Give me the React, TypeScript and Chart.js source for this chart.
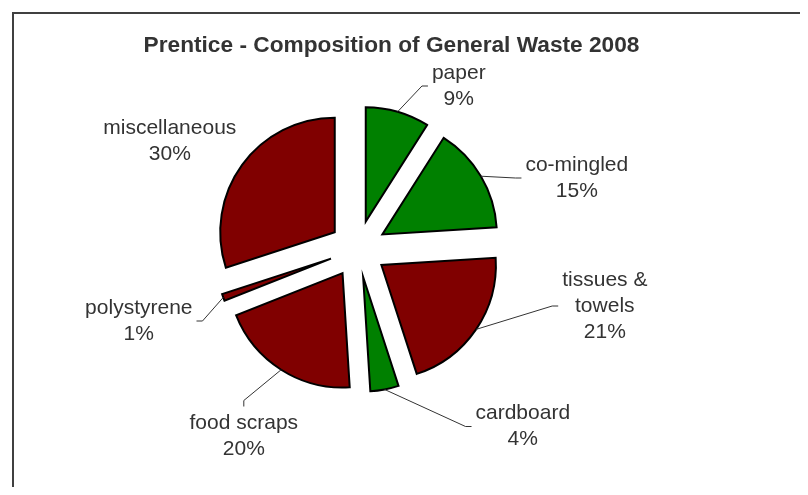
import React, { useEffect, useRef } from "react";
import { Chart, registerables } from "chart.js";

Chart.register(...registerables);

// ---- data ----
const categories = [
  "paper",
  "co-mingled",
  "tissues & towels",
  "cardboard",
  "food scraps",
  "polystyrene",
  "miscellaneous",
];
const values = [9, 15, 21, 4, 20, 1, 30];
const sliceColors = ["#008000", "#008000", "#800000", "#008000", "#800000", "#800000", "#800000"];
const titleText = "Prentice - Composition of General Waste 2008";

// ---- label layout (offsets of each label block from the pie centre, px) ----
const labelLayout = [
  { dx: 101, dy: -163, leader: "left", maxWidth: 1000 },
  { dx: 219, dy: -71, leader: "left", maxWidth: 1000 },
  { dx: 247, dy: 57, leader: "left", maxWidth: 100 },
  { dx: 165, dy: 177.5, leader: "left", maxWidth: 1000 },
  { dx: -114, dy: 187.5, leader: "top", maxWidth: 1000 },
  { dx: -219, dy: 72, leader: "right", maxWidth: 1000 },
  { dx: -188, dy: -108, leader: "", maxWidth: 1000 },
];

const FONT = "'Liberation Sans', Arial, sans-serif";
const EXPLODE = 28.5;

function wrapText(ctx: CanvasRenderingContext2D, text: string, maxW: number): string[] {
  const words = text.split(" ");
  const lines: string[] = [];
  let cur = "";
  for (const w of words) {
    const test = cur ? cur + " " + w : w;
    if (cur && ctx.measureText(test).width > maxW) {
      lines.push(cur);
      cur = w;
    } else {
      cur = test;
    }
  }
  if (cur) lines.push(cur);
  return lines;
}

const frameAndTitle = {
  id: "frameAndTitle",
  beforeDraw(chart: any) {
    const ctx = chart.ctx as CanvasRenderingContext2D;
    ctx.save();
    ctx.strokeStyle = "#404040";
    ctx.lineWidth = 2;
    ctx.beginPath();
    ctx.moveTo(5, chart.height + 5);
    ctx.lineTo(5, 5);
    ctx.lineTo(chart.width + 5, 5);
    ctx.stroke();
    ctx.fillStyle = "#333333";
    ctx.font = `bold 22.7px ${FONT}`;
    ctx.textAlign = "center";
    ctx.textBaseline = "alphabetic";
    ctx.fillText(titleText, 383.5, 44);
    ctx.restore();
  },
};

const explodedPie = {
  id: "explodedPie",
  beforeDatasetDraw(chart: any, args: any) {
    const ctx = chart.ctx as CanvasRenderingContext2D;
    args.meta.data.forEach((arc: any) => {
      const mid = (arc.startAngle + arc.endAngle) / 2;
      ctx.save();
      ctx.translate(Math.cos(mid) * EXPLODE, Math.sin(mid) * EXPLODE);
      arc.draw(ctx);
      ctx.restore();
    });
    return false;
  },
};

const pieLabels = {
  id: "pieLabels",
  afterDatasetsDraw(chart: any) {
    const ctx = chart.ctx as CanvasRenderingContext2D;
    const meta = chart.getDatasetMeta(0);
    const data = chart.data.datasets[0].data as number[];
    const total = data.reduce((a, b) => a + b, 0);
    const lh = 26;
    const gap = 4;
    const stub = 6;
    ctx.save();
    ctx.font = `21px ${FONT}`;
    meta.data.forEach((arc: any, i: number) => {
      const L = labelLayout[i];
      const { x, y, startAngle, endAngle, outerRadius } = arc;
      const mid = (startAngle + endAngle) / 2;
      const lines = wrapText(ctx, String(chart.data.labels[i]), L.maxWidth);
      lines.push(Math.round((data[i] / total) * 100) + "%");
      const cx = x + L.dx;
      const cy = y + L.dy;
      const blockW = Math.max(...lines.map((t) => ctx.measureText(t).width));
      const blockH = lines.length * lh;
      ctx.fillStyle = "#333333";
      ctx.textAlign = "center";
      ctx.textBaseline = "middle";
      lines.forEach((t, k) => ctx.fillText(t, cx, cy - blockH / 2 + lh * (k + 0.5)));
      if (L.leader) {
        const sx = x + Math.cos(mid) * (EXPLODE + outerRadius);
        const sy = y + Math.sin(mid) * (EXPLODE + outerRadius);
        let ex = cx, ey = cy, bx = cx, by = cy;
        if (L.leader === "left") {
          ex = cx - blockW / 2 - gap; ey = cy; bx = ex - stub; by = ey;
        } else if (L.leader === "right") {
          ex = cx + blockW / 2 + gap; ey = cy; bx = ex + stub; by = ey;
        } else if (L.leader === "top") {
          ex = cx; ey = cy - blockH / 2 - gap; bx = ex; by = ey - stub;
        }
        ctx.strokeStyle = "#333333";
        ctx.lineWidth = 1;
        ctx.beginPath();
        ctx.moveTo(sx, sy);
        ctx.lineTo(bx, by);
        ctx.lineTo(ex, ey);
        ctx.stroke();
      }
    });
    ctx.restore();
  },
};

export default function App() {
  const ref = useRef<HTMLCanvasElement | null>(null);
  useEffect(() => {
    if (!ref.current) return;
    const chart = new Chart(ref.current, {
      type: "pie",
      data: {
        labels: categories,
        datasets: [
          {
            data: values,
            backgroundColor: sliceColors,
            borderColor: "#000000",
            borderWidth: 2,
            hoverBorderWidth: 2,
            borderJoinStyle: "miter",
            offset: 0,
            hoverOffset: 0,
          },
        ],
      },
      options: {
        animation: false,
        responsive: false,
        devicePixelRatio: 1,
        events: [],
        layout: { padding: { left: 234.3, right: 326.7, top: 125.5, bottom: 122.5 } },
        plugins: {
          legend: { display: false },
          tooltip: { enabled: false },
          title: { display: false },
        },
      },
      plugins: [frameAndTitle, explodedPie, pieLabels],
    } as any);
    return () => chart.destroy();
  }, []);
  return (
    <div style={{ width: 792, height: 479 }}>
      <canvas ref={ref} width={792} height={479} style={{ display: "block" }} />
    </div>
  );
}
